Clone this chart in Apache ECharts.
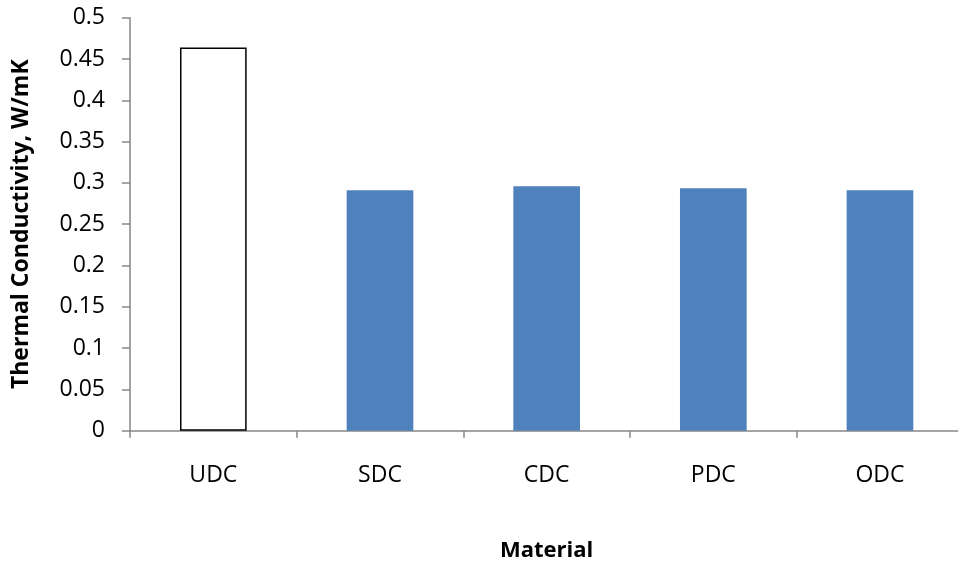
<!DOCTYPE html>
<html><head><meta charset="utf-8">
<script src="https://cdn.jsdelivr.net/npm/echarts@6/dist/echarts.min.js"></script>
<style>html,body{margin:0;padding:0;background:#fff}#c{width:958px;height:565px}</style>
</head><body><div id="c"></div>
<script>
const categories = ['UDC', 'SDC', 'CDC', 'PDC', 'ODC'];
const values = [0.464, 0.291, 0.296, 0.2935, 0.291];
const yTicks = { min: 0, max: 0.5, interval: 0.05 };

const font = '"Open Sans", "Liberation Sans", sans-serif';
const chart = echarts.init(document.getElementById('c'), null, { renderer: 'canvas' });
chart.setOption({
  animation: false,
  backgroundColor: '#fff',
  grid: { left: 130, top: 17.7, width: 833.3, height: 413, outerBoundsMode: 'none', containLabel: false },
  xAxis: {
    type: 'category',
    data: categories,
    name: 'Material',
    nameLocation: 'middle',
    nameGap: 109,
    nameTextStyle: { fontFamily: font, fontSize: 22, fontWeight: 'bold', color: '#000' },
    axisLine: { lineStyle: { color: '#868686', width: 1.5 } },
    axisTick: { show: true, length: 7, lineStyle: { color: '#868686', width: 1.5 } },
    axisLabel: { fontFamily: font, fontSize: 23, color: '#000', margin: 33 }
  },
  yAxis: {
    type: 'value',
    min: yTicks.min, max: yTicks.max, interval: yTicks.interval,
    name: 'Thermal Conductivity, W/mK',
    nameLocation: 'middle',
    nameGap: 97,
    nameRotate: 90,
    nameTextStyle: { fontFamily: font, fontSize: 23, fontWeight: 'bold', color: '#000' },
    splitLine: { show: false },
    axisLine: { show: true, lineStyle: { color: '#868686', width: 1.5 } },
    axisTick: { show: true, length: 8, lineStyle: { color: '#868686', width: 1.5 } },
    axisLabel: { fontFamily: font, fontSize: 23, color: '#000', margin: 25,
      formatter: v => String(Math.round(v * 100) / 100) }
  },
  series: [{
    type: 'bar',
    barCategoryGap: '60%',
    data: values.map((v, i) => i === 0
      ? { value: v, itemStyle: { color: '#ffffff', borderColor: '#000', borderWidth: 1.5 } }
      : { value: v, itemStyle: { color: '#4F81BD' } })
  }]
});
</script></body></html>
